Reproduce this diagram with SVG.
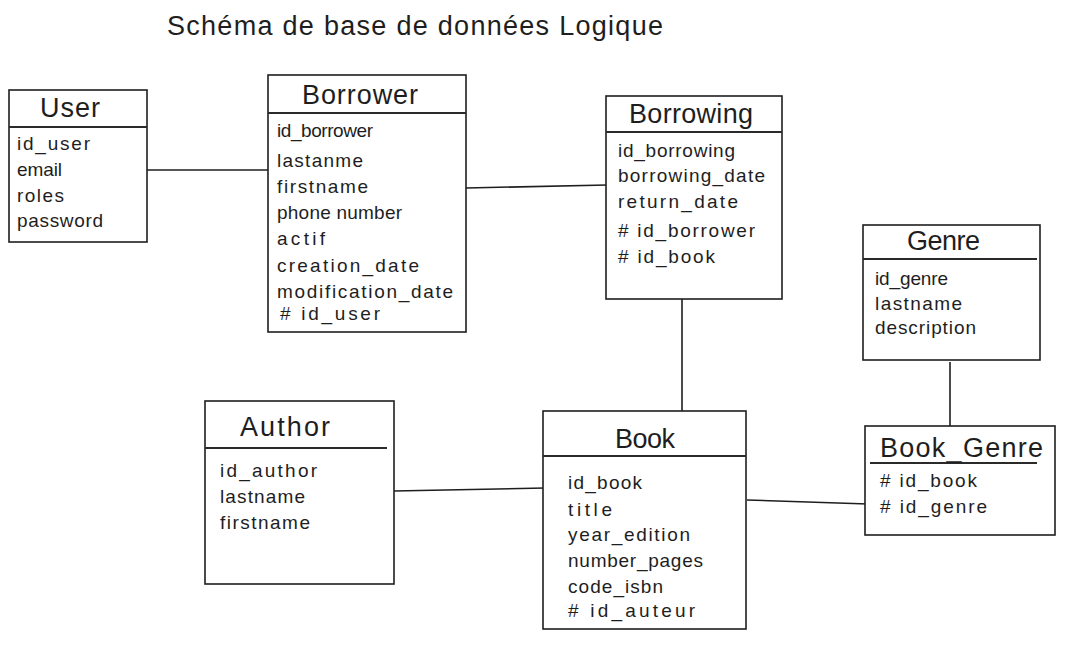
<svg xmlns="http://www.w3.org/2000/svg" width="1065" height="663" viewBox="0 0 1065 663">
<style>
.box{fill:#ffffff;stroke:#1e1e1e;stroke-width:1.6}
.div{stroke:#2a2a2a;stroke-width:2;fill:none}
.edge{stroke:#1e1e1e;stroke-width:1.6;fill:none}
.t{font-family:"Liberation Sans",Arial,sans-serif;font-size:27px;fill:#1e1e1e;text-anchor:start}
.a{font-family:"Liberation Sans",Arial,sans-serif;font-size:19px;fill:#1e1e1e}
.h{font-family:"Liberation Sans",Arial,sans-serif;font-size:27px;fill:#1e1e1e}
</style>
<rect width="1065" height="663" fill="#ffffff"/>
<text class="h" x="167" y="35" textLength="496" lengthAdjust="spacing">Schéma de base de données Logique</text>

<g id="connectors">
<path class="edge" d="M144 170 L269 170"/>
<path class="edge" d="M466 188 L607 185"/>
<path class="edge" d="M682 299 L682 416"/>
<path class="edge" d="M950 362 L950 432"/>
<path class="edge" d="M394 491 L545 488"/>
<path class="edge" d="M747 500 L868 504"/>
</g>

<g id="user">
<rect class="box" x="9" y="90" width="138" height="152"/>
<line class="div" x1="9" y1="127" x2="147" y2="127"/>
<text class="t" x="40" y="117" textLength="60" lengthAdjust="spacing">User</text>
<text class="a" x="17" y="150" textLength="73" lengthAdjust="spacing">id_user</text>
<text class="a" x="17" y="176" textLength="45" lengthAdjust="spacing">email</text>
<text class="a" x="17" y="202" textLength="47" lengthAdjust="spacing">roles</text>
<text class="a" x="17" y="227" textLength="86" lengthAdjust="spacing">password</text>
</g>

<g id="borrower">
<rect class="box" x="268" y="75" width="198" height="257"/>
<line class="div" x1="268" y1="113" x2="466" y2="113"/>
<text class="t" x="302" y="104" textLength="116" lengthAdjust="spacing">Borrower</text>
<text class="a" x="277" y="137" textLength="96" lengthAdjust="spacing">id_borrower</text>
<text class="a" x="277" y="167" textLength="86" lengthAdjust="spacing">lastanme</text>
<text class="a" x="277" y="193" textLength="91" lengthAdjust="spacing">firstname</text>
<text class="a" x="277" y="219" textLength="125" lengthAdjust="spacing">phone number</text>
<text class="a" x="277" y="245" textLength="48" lengthAdjust="spacing">actif</text>
<text class="a" x="277" y="272" textLength="142" lengthAdjust="spacing">creation_date</text>
<text class="a" x="277" y="298" textLength="176" lengthAdjust="spacing">modification_date</text>
<text class="a" x="280" y="320" textLength="100" lengthAdjust="spacing"># id_user</text>
</g>

<g id="borrowing">
<rect class="box" x="606" y="96" width="176" height="203"/>
<line class="div" x1="606" y1="132" x2="782" y2="132"/>
<text class="t" x="629" y="123" textLength="124" lengthAdjust="spacing">Borrowing</text>
<text class="a" x="618" y="157" textLength="117" lengthAdjust="spacing">id_borrowing</text>
<text class="a" x="618" y="182" textLength="147" lengthAdjust="spacing">borrowing_date</text>
<text class="a" x="618" y="208" textLength="120" lengthAdjust="spacing">return_date</text>
<text class="a" x="618" y="237" textLength="137" lengthAdjust="spacing"># id_borrower</text>
<text class="a" x="618" y="263" textLength="97" lengthAdjust="spacing"># id_book</text>
</g>

<g id="genre">
<rect class="box" x="863" y="225" width="177" height="135"/>
<line class="div" x1="863" y1="259" x2="1037" y2="259"/>
<text class="t" x="907" y="250" textLength="73" lengthAdjust="spacing">Genre</text>
<text class="a" x="875" y="285" textLength="73" lengthAdjust="spacing">id_genre</text>
<text class="a" x="875" y="310" textLength="87" lengthAdjust="spacing">lastname</text>
<text class="a" x="875" y="334" textLength="101" lengthAdjust="spacing">description</text>
</g>

<g id="book_genre">
<rect class="box" x="865" y="426" width="190" height="109"/>
<line class="div" x1="870" y1="463" x2="1037" y2="463"/>
<text class="t" x="880" y="457" textLength="163" lengthAdjust="spacing">Book_Genre</text>
<text class="a" x="880" y="487" textLength="97" lengthAdjust="spacing"># id_book</text>
<text class="a" x="880" y="513" textLength="107" lengthAdjust="spacing"># id_genre</text>
</g>

<g id="author">
<rect class="box" x="205" y="401" width="189" height="183"/>
<line class="div" x1="205" y1="448" x2="387" y2="448"/>
<text class="t" x="240" y="436" textLength="90" lengthAdjust="spacing">Author</text>
<text class="a" x="220" y="477" textLength="97" lengthAdjust="spacing">id_author</text>
<text class="a" x="220" y="503" textLength="85" lengthAdjust="spacing">lastname</text>
<text class="a" x="220" y="529" textLength="90" lengthAdjust="spacing">firstname</text>
</g>

<g id="book">
<rect class="box" x="543" y="411" width="203" height="218"/>
<line class="div" x1="543" y1="456" x2="746" y2="456"/>
<text class="t" x="615" y="448" textLength="60" lengthAdjust="spacing">Book</text>
<text class="a" x="568" y="489" textLength="74" lengthAdjust="spacing">id_book</text>
<text class="a" x="568" y="516" textLength="44" lengthAdjust="spacing">title</text>
<text class="a" x="568" y="541" textLength="122" lengthAdjust="spacing">year_edition</text>
<text class="a" x="568" y="567" textLength="135" lengthAdjust="spacing">number_pages</text>
<text class="a" x="568" y="593" textLength="95" lengthAdjust="spacing">code_isbn</text>
<text class="a" x="568" y="617" textLength="127" lengthAdjust="spacing"># id_auteur</text>
</g>
</svg>
